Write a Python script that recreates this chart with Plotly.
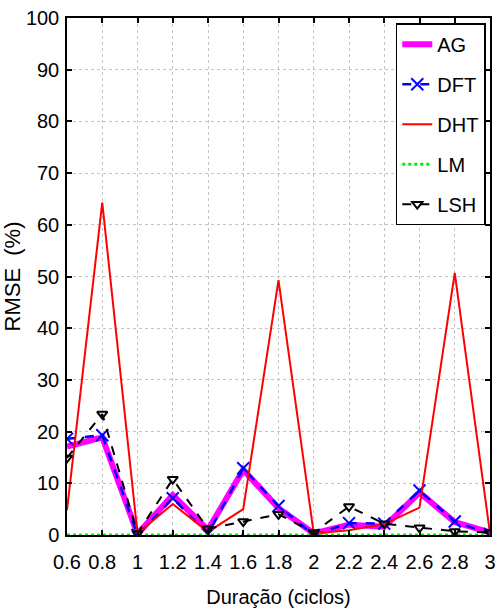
import plotly.graph_objects as go

duracao = [0.6, 0.8, 1.0, 1.2, 1.4, 1.6, 1.8, 2.0, 2.2, 2.4, 2.6, 2.8, 3.0]
ag  = [17.1, 18.9, 0.2, 7.7, 1.0, 12.6, 5.2, 0.3, 2.0, 1.6, 8.2, 2.5, 0.5]
dft = [18.6, 19.3, 0.0, 7.1, 0.2, 12.9, 5.6, 0.0, 2.3, 2.2, 8.6, 2.6, 0.2]
dht = [4.8, 64.3, 0.3, 6.0, 0.6, 5.0, 49.3, 0.3, 0.9, 2.1, 5.3, 50.7, 0.3]
lm  = [0.0] * 13
lsh = [14.9, 23.4, 0.3, 10.8, 1.2, 2.6, 4.0, 0.5, 5.5, 2.2, 1.4, 0.7, 0.5]

xtick_vals = [0.6, 0.8, 1.0, 1.2, 1.4, 1.6, 1.8, 2.0, 2.2, 2.4, 2.6, 2.8, 3.0]
xtick_text = ["0.6", "0.8", "1", "1.2", "1.4", "1.6", "1.8", "2", "2.2", "2.4", "2.6", "2.8", "3"]
ytick_vals = [0, 10, 20, 30, 40, 50, 60, 70, 80, 90, 100]
ytick_text = [str(v) for v in ytick_vals]

FONT = "Liberation Sans, Arial, sans-serif"

fig = go.Figure()
fig.add_trace(go.Scatter(x=duracao, y=ag, name="AG", mode="lines", legendgroup="a",
                         line=dict(color="#ff00ff", width=6)))
fig.add_trace(go.Scatter(x=duracao, y=dft, name="DFT", mode="lines+markers", legendgroup="b",
                         line=dict(color="#0000ff", width=2.5, dash="dash"),
                         marker=dict(symbol="x-thin-open", size=12, color="#0000ff",
                                     line=dict(width=2, color="#0000ff"))))
fig.add_trace(go.Scatter(x=duracao, y=dht, name="DHT", mode="lines", legendgroup="c",
                         line=dict(color="#ff0000", width=2)))
fig.add_trace(go.Scatter(x=duracao, y=lm, name="LM", mode="lines", legendgroup="d",
                         line=dict(color="#00ee00", width=3, dash="dot")))
fig.add_trace(go.Scatter(x=duracao, y=lsh, name="LSH", mode="lines+markers", legendgroup="e",
                         line=dict(color="#000000", width=2, dash="dash"),
                         marker=dict(symbol="triangle-down-open", size=9, color="#000000",
                                     line=dict(width=2, color="#000000"))))

fig.update_layout(
    width=500, height=612,
    margin=dict(l=67, r=10, t=18, b=77, autoexpand=False),
    paper_bgcolor="white", plot_bgcolor="white",
    font=dict(family=FONT, size=20, color="black"),
    showlegend=True,
    legend=dict(x=0.99, y=0.99, xanchor="right", yanchor="top",
                bgcolor="white", bordercolor="black", borderwidth=1.5,
                font=dict(family=FONT, size=20, color="black"),
                tracegroupgap=11, itemwidth=30),
)
fig.update_xaxes(
    range=[0.6, 3.0], tickvals=xtick_vals, ticktext=xtick_text, tickangle=0,
    showline=True, linecolor="black", linewidth=1.5, mirror="allticks",
    ticks="inside", ticklen=5, tickcolor="black", tickwidth=1.5,
    showgrid=True, gridcolor="#c4c4c4", griddash="dot", gridwidth=1,
    zeroline=False, ticklabelstandoff=8, automargin=False,
    tickfont=dict(family=FONT, size=20),
    title=dict(text="Duração (ciclos)", font=dict(family=FONT, size=20), standoff=18),
)
fig.update_yaxes(
    range=[0, 100], tickvals=ytick_vals, ticktext=ytick_text,
    showline=True, linecolor="black", linewidth=1.5, mirror="allticks",
    ticks="inside", ticklen=5, tickcolor="black", tickwidth=1.5,
    showgrid=True, gridcolor="#c4c4c4", griddash="dot", gridwidth=1,
    zeroline=False, ticklabelstandoff=2, automargin=False,
    tickfont=dict(family=FONT, size=20),
    title=dict(text="RMSE  (%)", font=dict(family=FONT, size=22), standoff=0),
)

fig.write_html("out.html")
